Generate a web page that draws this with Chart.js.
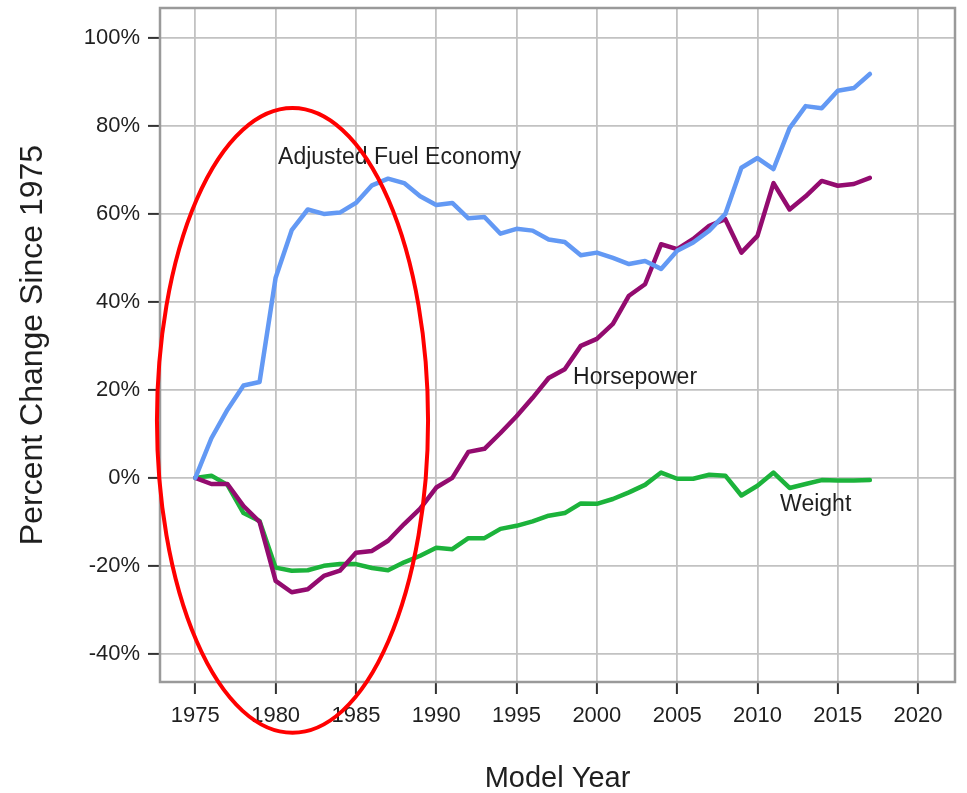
<!DOCTYPE html>
<html>
<head>
<meta charset="utf-8">
<script src="https://cdn.jsdelivr.net/npm/chart.js@4/dist/chart.umd.min.js"></script>
<style>
html,body{margin:0;padding:0;background:#ffffff;}
#wrap{width:967px;height:793px;}
</style>
</head>
<body>
<div id="wrap"><canvas id="c" width="967" height="793"></canvas></div>
<script>
// ---- data ----
const years = [1975,1976,1977,1978,1979,1980,1981,1982,1983,1984,1985,1986,1987,1988,1989,1990,1991,1992,1993,1994,1995,1996,1997,1998,1999,2000,2001,2002,2003,2004,2005,2006,2007,2008,2009,2010,2011,2012,2013,2014,2015,2016,2017];
const fuelEconomy = [0,9,15.5,21,21.8,45.5,56.3,61,60,60.3,62.5,66.5,68,67,64,62,62.5,59,59.3,55.5,56.6,56.2,54.2,53.6,50.6,51.2,50,48.6,49.3,47.5,51.6,53.5,56.2,60,70.5,72.7,70.2,79.5,84.5,84,88,88.6,91.8];
const horsepower = [0,-1.4,-1.4,-6.4,-10,-23.4,-26,-25.3,-22.3,-21.1,-17,-16.6,-14.3,-10.5,-7,-2.2,0,5.9,6.6,10.2,14,18.2,22.7,24.7,30,31.6,35,41.4,44,53.1,52,54.3,57.3,58.8,51.2,55,67,61,64,67.5,66.4,66.8,68.2];
const weight = [0,0.5,-1.6,-8,-9.8,-20.4,-21.1,-21,-20,-19.6,-19.6,-20.5,-21,-19.2,-17.7,-15.9,-16.2,-13.7,-13.7,-11.6,-10.9,-9.9,-8.6,-8,-5.8,-5.9,-4.8,-3.3,-1.6,1.2,-0.2,-0.2,0.7,0.5,-4,-1.8,1.2,-2.3,-1.4,-0.5,-0.6,-0.6,-0.5];
const seriesNames = ['Adjusted Fuel Economy','Horsepower','Weight'];
const xTicks = [1975,1980,1985,1990,1995,2000,2005,2010,2015,2020];
const yTicks = [-40,-20,0,20,40,60,80,100];
// in-plot labels (data coordinates)
const labelTexts = ['Adjusted Fuel Economy','Horsepower','Weight'];
const labelX = [1980.15,1998.52,2011.41];
const labelY = [72.7,22.7,-6.2];
// highlight ellipse (data coordinates: center and radii)
const ellipseCenter = [1981.05,13.05];
const ellipseRadius = [8.44,71.0];

const FONT = '"Liberation Sans", Arial, Helvetica, sans-serif';

function pts(vals){ return years.map((y,i)=>({x:y,y:vals[i]})); }

const overlay = {
  id:'overlay',
  beforeDatasetsDraw(chart){
    const {ctx, chartArea:a} = chart;
    ctx.save();
    ctx.strokeStyle = '#9a9a9a';
    ctx.lineWidth = 2.5;
    ctx.strokeRect(a.left, a.top, a.right-a.left, a.bottom-a.top);
    ctx.restore();
  },
  afterDatasetsDraw(chart){
    const {ctx, scales:{x,y}} = chart;
    ctx.save();
    ctx.font = '23px ' + FONT;
    ctx.fillStyle = '#1f1f1f';
    ctx.textAlign = 'left';
    ctx.textBaseline = 'middle';
    labelTexts.forEach((t,i)=>{
      ctx.fillText(t, x.getPixelForValue(labelX[i]), y.getPixelForValue(labelY[i]));
    });
    const cx = x.getPixelForValue(ellipseCenter[0]);
    const cy = y.getPixelForValue(ellipseCenter[1]);
    const rx = Math.abs(x.getPixelForValue(ellipseCenter[0]+ellipseRadius[0]) - cx);
    const ry = Math.abs(y.getPixelForValue(ellipseCenter[1]+ellipseRadius[1]) - cy);
    ctx.beginPath();
    ctx.ellipse(cx, cy, rx, ry, 0, 0, Math.PI*2);
    ctx.strokeStyle = '#ff0000';
    ctx.lineWidth = 4;
    ctx.stroke();
    ctx.restore();
  }
};

function zeroPad(scale){
  scale.paddingTop = 0; scale.paddingBottom = 0; scale.paddingLeft = 0; scale.paddingRight = 0;
}

new Chart(document.getElementById('c'), {
  type:'line',
  data:{
    datasets:[
      {label:seriesNames[0], data:pts(fuelEconomy), borderColor:'#6399f4', borderWidth:4.5},
      {label:seriesNames[1], data:pts(horsepower), borderColor:'#930b6f', borderWidth:4.5},
      {label:seriesNames[2], data:pts(weight), borderColor:'#1cb33b', borderWidth:4.5}
    ]
  },
  options:{
    responsive:false,
    animation:false,
    devicePixelRatio:1,
    layout:{padding:{top:8,right:12,left:0,bottom:0}},
    elements:{
      point:{radius:0, hoverRadius:0},
      line:{tension:0, borderJoinStyle:'round', borderCapStyle:'round'}
    },
    plugins:{legend:{display:false}, tooltip:{enabled:false}},
    scales:{
      x:{
        type:'linear', min:1972.8, max:2022.3,
        afterBuildTicks(scale){ scale.ticks = xTicks.map(v=>({value:v})); },
        afterFit(scale){ scale.height = 111; zeroPad(scale); },
        border:{display:false},
        grid:{color:'#c2c2c2', lineWidth:1.8, drawTicks:true, tickLength:12, tickColor:'#333333', tickWidth:2},
        ticks:{autoSkip:false, maxRotation:0, padding:9, color:'#1f1f1f', font:{family:FONT, size:22},
          callback:(v)=>String(v)},
        title:{display:true, text:'Model Year', color:'#1f1f1f', font:{family:FONT, size:29, lineHeight:1.0}, padding:{top:0,bottom:0}}
      },
      y:{
        type:'linear', min:-46.4, max:106.8,
        afterBuildTicks(scale){ scale.ticks = yTicks.map(v=>({value:v})); },
        afterFit(scale){ scale.width = 160; zeroPad(scale); },
        border:{display:false},
        grid:{color:'#c2c2c2', lineWidth:1.8, drawTicks:true, tickLength:12, tickColor:'#333333', tickWidth:2},
        ticks:{autoSkip:false, padding:8, color:'#1f1f1f', font:{family:FONT, size:22},
          callback:(v)=>v+'%'},
        title:{display:true, text:'Percent Change Since 1975', color:'#1f1f1f', font:{family:FONT, size:32, lineHeight:1.2}, padding:{top:14,bottom:0}}
      }
    }
  },
  plugins:[overlay]
});
</script>
</body>
</html>
